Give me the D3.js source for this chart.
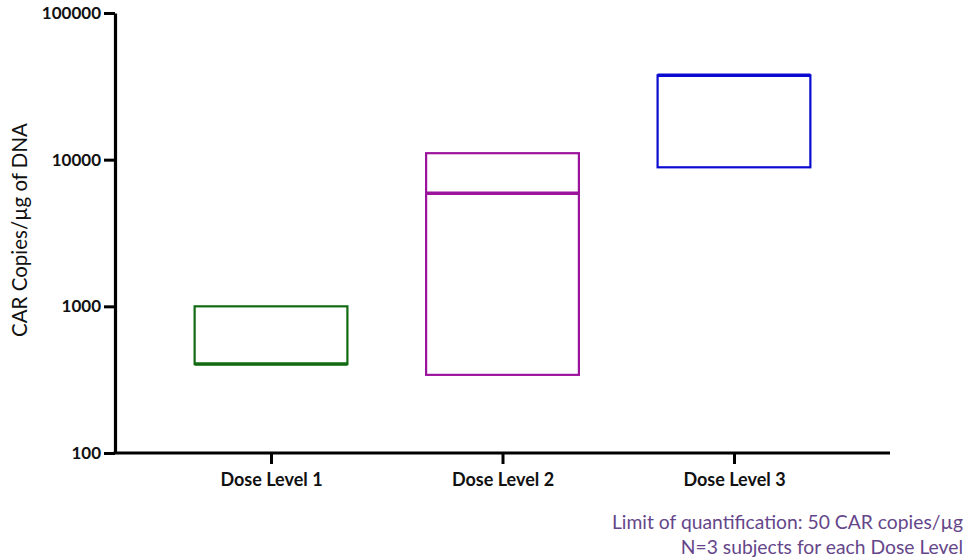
<!DOCTYPE html>
<html>
<head>
<meta charset="utf-8">
<script src="https://cdn.jsdelivr.net/npm/d3@7"></script>
<style>
  html, body { margin: 0; padding: 0; background: #fff; }
  svg { display: block; }
</style>
</head>
<body>
<svg id="chart" width="966" height="560"></svg>
<script>
// Dose groups and their CAR copy ranges (min, median, max)
const doseLevels = ["Dose Level 1", "Dose Level 2", "Dose Level 3"];
const minValues = [404, 341, 8870];
const medianValues = [404, 5900, 37600];
const maxValues = [1000, 11070, 37600];
const boxColors = ["#126b12", "#9c139c", "#0a0ad0"];
const yTickValues = [100, 1000, 10000, 100000];
const footnotes = ["Limit of quantification: 50 CAR copies/\u00b5g", "N=3 subjects for each Dose Level"];

const svg = d3.select("#chart");
const plotLeft = 115, plotRight = 890, plotTop = 13, plotBottom = 453;

const x = d3.scalePoint().domain(doseLevels).range([plotLeft, plotRight]).padding(0.674);
const y = d3.scaleLog().domain([100, 100000]).range([plotBottom, plotTop]);
const boxW = x.step() * 0.66;

const font = "Lato, 'Open Sans', sans-serif";

// Boxes: floating bar from min to max with median line
const groups = doseLevels.map((d, i) => ({
  name: d, min: minValues[i], med: medianValues[i], max: maxValues[i], color: boxColors[i]
}));

const g = svg.append("g");
g.selectAll("rect.box").data(groups).join("rect")
  .attr("class", "box")
  .attr("x", d => x(d.name) - boxW / 2)
  .attr("width", boxW)
  .attr("y", d => y(d.max))
  .attr("height", d => y(d.min) - y(d.max))
  .attr("fill", "none")
  .attr("stroke", d => d.color)
  .attr("stroke-width", 2.2);

g.selectAll("line.median").data(groups).join("line")
  .attr("class", "median")
  .attr("x1", d => x(d.name) - boxW / 2)
  .attr("x2", d => x(d.name) + boxW / 2)
  .attr("y1", d => y(d.med))
  .attr("y2", d => y(d.med))
  .attr("stroke", d => d.color)
  .attr("stroke-width", 3.4);

// Y axis
const yAxis = svg.append("g")
  .attr("transform", `translate(${plotLeft},0)`)
  .call(d3.axisLeft(y).tickValues(yTickValues).tickFormat(d3.format("d")).tickSize(11).tickSizeOuter(0));
yAxis.select(".domain").attr("stroke", "#000").attr("stroke-width", 3.2);
yAxis.selectAll(".tick line").attr("stroke", "#000").attr("stroke-width", 3);
yAxis.selectAll(".tick text")
  .attr("x", -14)
  .attr("fill", "#111")
  .style("font-family", font)
  .style("font-weight", "700")
  .style("font-size", "17px");

// X axis
const xAxis = svg.append("g")
  .attr("transform", `translate(0,${plotBottom})`)
  .call(d3.axisBottom(x).tickSize(11).tickSizeOuter(0));
xAxis.select(".domain").attr("stroke", "#000").attr("stroke-width", 3.2)
  .attr("d", `M${plotLeft - 1.5},0H${plotRight}`);
xAxis.selectAll(".tick line").attr("stroke", "#000").attr("stroke-width", 3);
xAxis.selectAll(".tick text")
  .attr("y", 20)
  .attr("fill", "#111")
  .style("font-family", font)
  .style("font-weight", "700")
  .style("font-size", "18px");

// Y axis title
svg.append("text")
  .attr("transform", `translate(27,${(120 + 340) / 2}) rotate(-90)`)
  .attr("text-anchor", "middle")
  .attr("fill", "#111")
  .style("font-family", font)
  .style("font-size", "20.5px")
  .text("CAR Copies/\u00b5g of DNA");

// Footnotes
svg.selectAll("text.note").data(footnotes).join("text")
  .attr("class", "note")
  .attr("x", 963)
  .attr("y", (d, i) => 529 + i * 24.5)
  .attr("text-anchor", "end")
  .attr("fill", "#65468a")
  .style("font-family", font)
  .style("font-size", "19.3px")
  .text(d => d);
</script>
</body>
</html>
